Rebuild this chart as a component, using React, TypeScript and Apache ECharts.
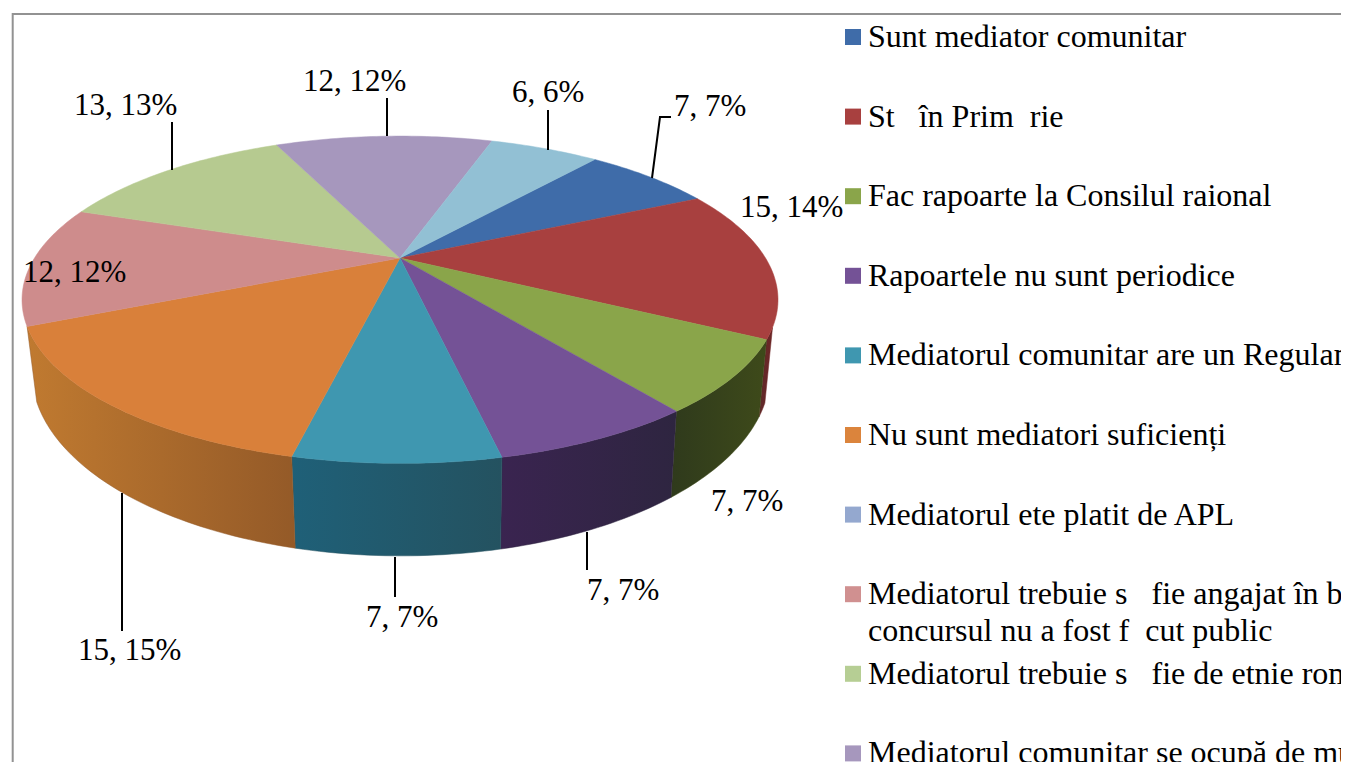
import React, { useEffect, useRef } from "react";
import * as echarts from "echarts";

const N = "\u00a0";
const categories = [
  "Sunt mediator comunitar",
  `St${N}${N}${N}în Prim${N}${N}rie`,
  "Fac rapoarte la Consilul raional",
  "Rapoartele nu sunt periodice",
  "Mediatorul comunitar are un Regulament",
  "Nu sunt mediatori suficienți",
  "Mediatorul ete platit de APL",
  `Mediatorul trebuie s${N}${N}${N}fie angajat în b`,
  `Mediatorul trebuie s${N}${N}${N}fie de etnie rom`,
  "Mediatorul comunitar se ocupă de mu",
];
const secondLine = `concursul nu a fost f${N}${N}cut public`;
// The eleventh slice's legend row lies below the visible page.
const values = [7, 15, 7, 7, 7, 15, 0, 12, 13, 12, 6];
const percents = [7, 14, 7, 7, 7, 15, 0, 12, 13, 12, 6];

const topColors = ["#3F6CA9", "#A8403F", "#8AA54A", "#745296", "#3F97B0", "#D9803A", "#94A8CF", "#CE8C8C", "#B6CA90", "#A697BD", "#92C0D4"];
const legendColors = ["#3F6CA9", "#A8403F", "#8AA54A", "#745296", "#3F97B0", "#DB843C", "#94A8CF", "#D09090", "#B6CE94", "#A697BD"];
const wallColors: Record<number, [string, string]> = {
  1: ["#5E2A2A", "#6E2626"],
  2: ["#2F3A1C", "#3E4A1A"],
  3: ["#3A2450", "#2E2540"],
  4: ["#1F6078", "#245260"],
  5: ["#C07A30", "#945A28"],
};
const WALL_FROM = 24;
const WALL_TO = 157;

// label anchor (left x, middle y) and leader polyline per slice
const labelLayout: Record<number, { x: number; y: number; leader?: number[][] }> = {
  0: { x: 674, y: 105, leader: [[652, 178], [660, 117], [671, 117]] },
  1: { x: 740, y: 206 },
  2: { x: 711, y: 500 },
  3: { x: 587, y: 589, leader: [[587, 532], [587, 570]] },
  4: { x: 366, y: 616, leader: [[395, 557], [395, 597]] },
  5: { x: 78, y: 649, leader: [[122, 493], [122, 631]] },
  7: { x: 23, y: 271 },
  8: { x: 74, y: 104, leader: [[172, 122], [172, 170]] },
  9: { x: 303, y: 80, leader: [[387, 98], [387, 136]] },
  10: { x: 512, y: 91, leader: [[548, 110], [548, 150]] },
};

const LABEL_FONT = "31px 'Liberation Serif'";
const LEGEND_FONT = "32px 'Liberation Serif'";
const START_DEG = -50.4;
const total = values.reduce((a, b) => a + b, 0);
const K = 0.255;
const topDisk = { cx: 400, cy: 258, a: 365.5, b: 153 };
const lowDisk = { cx: 401, cy: 325, a: 357, b: 172 };

function project(d: typeof topDisk, deg: number) {
  const t = (deg * Math.PI) / 180;
  const s = 1 / (1 - K * Math.sin(t));
  return [d.cx + d.a * Math.cos(t) * s, d.cy + d.b * Math.sin(t) * s];
}
function arc(d: typeof topDisk, from: number, to: number) {
  const pts: number[][] = [];
  const n = Math.max(2, Math.ceil(Math.abs(to - from)));
  for (let i = 0; i <= n; i++) pts.push(project(d, from + ((to - from) * i) / n));
  return pts;
}
function span(i: number) {
  let before = 0;
  for (let j = 0; j < i; j++) before += values[j];
  const from = START_DEG + (before / total) * 360;
  return [from, from + (values[i] / total) * 360];
}

function renderWall(_: any, api: any) {
  const i = api.value(0);
  const colors = wallColors[i];
  if (!values[i] || !colors) return null;
  const [a0, a1] = span(i);
  const from = Math.max(a0, WALL_FROM);
  const to = Math.min(a1, WALL_TO);
  if (to <= from) return null;
  const pts = [...arc(topDisk, from, to), ...arc(lowDisk, to, from)];
  const fill = new echarts.graphic.LinearGradient(0, 0, 1, 0, [
    { offset: 0, color: colors[0] },
    { offset: 1, color: colors[1] },
  ]);
  return {
    type: "polygon",
    shape: { points: pts },
    style: { fill, stroke: colors[1], lineWidth: 0.5 },
  };
}

function renderTop(_: any, api: any) {
  const i = api.value(0);
  if (!values[i]) return null;
  const [a0, a1] = span(i);
  const pts = [[topDisk.cx, topDisk.cy], ...arc(topDisk, a0, a1)];
  return {
    type: "polygon",
    shape: { points: pts },
    style: { fill: topColors[i], stroke: topColors[i], lineWidth: 0.5 },
  };
}

function renderLabel(_: any, api: any) {
  const i = api.value(0);
  const l = labelLayout[i];
  if (!values[i] || !l) return null;
  const children: any[] = [
    {
      type: "text",
      style: {
        text: `${values[i]}, ${percents[i]}%`,
        x: l.x,
        y: l.y,
        font: LABEL_FONT,
        fill: "#000",
        verticalAlign: "middle",
        align: "left",
      },
    },
  ];
  if (l.leader) {
    children.push({
      type: "polyline",
      shape: { points: l.leader },
      style: { fill: "none", stroke: "#000", lineWidth: 2 },
    });
  }
  return { type: "group", children };
}

export default function App() {
  const ref = useRef<HTMLDivElement>(null);
  useEffect(() => {
    document.body.style.margin = "0";
    document.body.style.background = "#fff";
    const chart = echarts.init(ref.current!, undefined, { renderer: "svg" });
    const indices = values.map((_, i) => [i]);
    const ROW0 = 37;
    const ROW_STEP = 79.6;
    const legend: any[] = [];
    categories.forEach((c, i) => {
      const y = ROW0 + ROW_STEP * i;
      legend.push({
        type: "rect",
        shape: { x: 845, y: y - 8, width: 16, height: 16 },
        style: { fill: legendColors[i] },
      });
      legend.push({
        type: "text",
        style: { text: c, x: 868, y: y - 1, font: LEGEND_FONT, fill: "#000", verticalAlign: "middle" },
      });
    });
    legend.push({
      type: "text",
      style: { text: secondLine, x: 868, y: ROW0 + ROW_STEP * 7 + 36, font: LEGEND_FONT, fill: "#000", verticalAlign: "middle" },
    });
    chart.setOption({
      animation: false,
      backgroundColor: "#fff",
      graphic: [
        {
          type: "rect",
          silent: true,
          z: 0,
          shape: { x: 12.7, y: 14, width: 1400, height: 800 },
          style: { fill: "none", stroke: "#929292", lineWidth: 2 },
        },
        ...legend,
      ],
      series: [
        { type: "custom", coordinateSystem: "none", renderItem: renderWall, data: indices, z: 2, silent: true },
        { type: "custom", coordinateSystem: "none", renderItem: renderTop, data: indices, z: 3, silent: true },
        { type: "custom", coordinateSystem: "none", renderItem: renderLabel, data: indices, z: 4, silent: true },
      ],
    });
    return () => chart.dispose();
  }, []);
  return <div ref={ref} style={{ width: 1341, height: 762 }} />;
}
